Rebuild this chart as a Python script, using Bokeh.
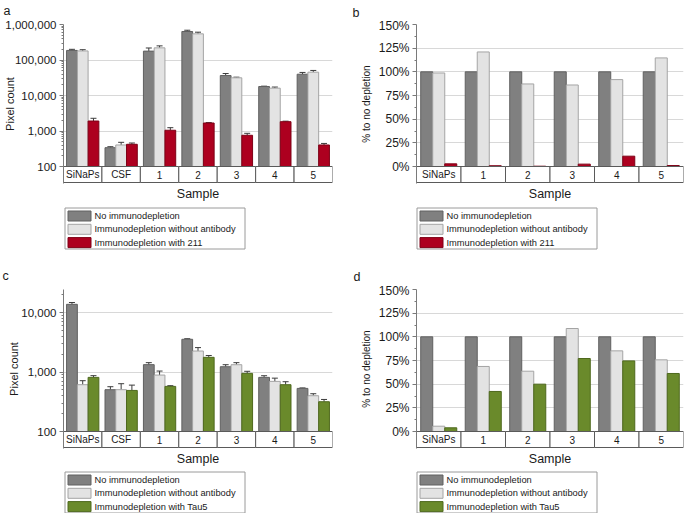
import math
from bokeh.plotting import figure
from bokeh.models import (Range1d, FixedTicker, NumeralTickFormatter, PrintfTickFormatter,
                          ColumnDataSource, Whisker, TeeHead)
from bokeh.layouts import row, column
from bokeh.embed import file_html
from bokeh.resources import INLINE
from bokeh.core.properties import value

FONT = "Liberation Sans"

# ---------------- data ----------------
cats_ac = ["SiNaPs", "CSF", "1", "2", "3", "4", "5"]
cats_bd = ["SiNaPs", "1", "2", "3", "4", "5"]
labels_211 = ["No immunodepletion", "Immunodepletion without antibody", "Immunodepletion with 211"]
labels_tau5 = ["No immunodepletion", "Immunodepletion without antibody", "Immunodepletion with Tau5"]

# panel a (pixel count, 211)
a_no_depl = [186000, 339, 178000, 635000, 36500, 17900, 39800]
a_no_depl_err = [14000, 22, 40000, 55000, 5100, 400, 4800]
a_no_ab = [180000, 404, 220000, 546000, 31500, 16100, 45400]
a_no_ab_err = [15000, 76, 30000, 61000, 1300, 1200, 5400]
a_211 = [1910, 422, 1050, 1680, 757, 1830, 404]
a_211_err = [370, 37, 190, 50, 103, 60, 42]

# panel b (% to no depletion, 211)
b_no_depl = [100, 100, 100, 100, 100, 100]
b_no_ab = [98.8, 121.0, 87.2, 86.1, 91.8, 114.7]
b_211 = [2.8, 0.8, 0.3, 2.5, 10.9, 1.0]

# panel c (pixel count, Tau5)
c_no_depl = [13800, 505, 1333, 3560, 1230, 814, 531]
c_no_depl_err = [1000, 62, 107, 80, 100, 54, 10]
c_no_ab = [613, 505, 890, 2260, 1330, 697, 400]
c_no_ab_err = [103, 132, 150, 320, 110, 93, 32]
c_tau5 = [814, 491, 574, 1770, 950, 613, 317]
c_tau5_err = [56, 112, 16, 130, 80, 75, 29]

# panel d (% to no depletion, Tau5)
d_no_depl = [100, 100, 100, 100, 100, 100]
d_no_ab = [5.6, 68.7, 63.7, 108.8, 85.2, 75.7]
d_tau5 = [3.9, 42.3, 50.0, 77.1, 74.6, 61.3]

ticks_a = [100, 1000, 10000, 100000, 1000000]
ticks_c = [100, 1000, 10000]
ticks_pct = [0, 25, 50, 75, 100, 125, 150]

# ---------------- styling ----------------
DARK = ("#808080", "#606060")
LIGHT = ("#e3e3e3", "#a4a4a4")
RED = ("#ad001f", "#7e0016")
GREEN = ("#6a8a2b", "#4e681d")
AXIS = "#7a7a7a"
TXT = "#1a1a1a"
BAR_PX, ROW_PX, PAD_PX = 142, 16, 1
FRAME_H = BAR_PX + ROW_PX + PAD_PX


def log_minor(lo, hi):
    out = []
    d = lo
    while d < hi:
        for m in range(2, 10):
            if m * d <= hi:
                out.append(m * d)
        d *= 10
    return out


def blank(W, H):
    f = figure(width=W, height=H, x_range=Range1d(0, W), y_range=Range1d(H, 0),
               x_axis_location=None, y_axis_location=None, output_backend="svg",
               toolbar_location=None, min_border_left=0, min_border_right=0,
               min_border_top=0, min_border_bottom=0, frame_align=False)
    f.outline_line_color = None
    f.background_fill_color = "white"
    f.border_fill_color = "white"
    f.grid.visible = False
    return f


def letter_fig(letter, W, H, x, baseline):
    f = blank(W, H)
    f.text(x=[x], y=[baseline], text=[letter], text_align="left",
           text_baseline="alphabetic", text_font=value(FONT),
           text_font_size="12.5px", text_color=TXT)
    return f


def legend_fig(labels, colors, W, H, bx, by):
    f = blank(W, H)
    bw, bh, step = 180, 41, 13.3
    f.quad(left=[bx + 0.5], right=[bx + bw + 0.5], top=[by + 0.5], bottom=[by + bh + 0.5],
           fill_color="white", line_color="#9a9a9a", line_width=1)
    tops = [by + 3.5 + k * step for k in range(len(labels))]
    f.quad(left=[bx + 3.5] * len(labels), right=[bx + 26.5] * len(labels),
           top=tops, bottom=[t + 10 for t in tops],
           fill_color=[c[0] for c in colors], line_color=[c[1] for c in colors], line_width=1)
    f.text(x=[bx + 30] * len(labels), y=[t + 5 for t in tops], text=labels,
           text_align="left", text_baseline="middle", text_font=value(FONT),
           text_font_size="9.3px", text_color=TXT)
    return f


def panel(cats, series, errors, colors, log, top, ticks, minor, grid,
          fmt, ylabel, ylabel_size, tick_size, ylab_standoff, bar_w,
          frame_w, bl, br, bt, bb):
    n = len(cats)
    if log:
        base = 100
        ppu = BAR_PX / math.log10(top / base)
        row_bot = base / 10 ** (ROW_PX / ppu)
        y0 = base / 10 ** ((ROW_PX + PAD_PX) / ppu)
        row_mid = math.sqrt(base * row_bot)
    else:
        base = 0
        ppu = BAR_PX / top
        row_bot = -ROW_PX / ppu
        y0 = -(ROW_PX + PAD_PX) / ppu
        row_mid = row_bot / 2

    p = figure(frame_width=frame_w, frame_height=FRAME_H,
               x_range=Range1d(0, n), y_range=Range1d(y0, top),
               y_axis_type="log" if log else "linear", output_backend="svg",
               toolbar_location=None, min_border_left=bl, min_border_right=br,
               min_border_top=bt, min_border_bottom=bb, frame_align=False)
    p.outline_line_color = None
    p.background_fill_color = "white"
    p.border_fill_color = "white"
    p.xgrid.visible = False
    p.ygrid.ticker = FixedTicker(ticks=grid)
    p.ygrid.grid_line_color = "#d8d8d8"
    p.ygrid.grid_line_width = 1

    for j, (vals, (fill, line)) in enumerate(zip(series, colors)):
        xs = [i + 0.5 + (j - 1) * bar_w for i in range(n)]
        p.vbar(x=xs, width=bar_w, bottom=base, top=vals, fill_color=fill,
               line_color=line, line_width=1)
        if errors is not None:
            err = errors[j]
            src = ColumnDataSource(dict(x=xs, lo=vals, hi=[v + e for v, e in zip(vals, err)]))
            p.add_layout(Whisker(source=src, base="x", lower="lo", upper="hi",
                                 line_color="#3c3c3c", line_width=1,
                                 upper_head=TeeHead(size=6, line_color="#3c3c3c", line_width=1),
                                 lower_head=None))

    # category row beneath the bars
    p.quad(left=list(range(n)), right=list(range(1, n + 1)), bottom=row_bot, top=base,
           fill_color="white", line_color="#5a5a5a", line_width=1)
    p.text(x=[i + 0.5 for i in range(n)], y=[row_mid] * n, text=cats,
           text_align="center", text_baseline="middle", text_font=value(FONT),
           text_font_size="10px", text_color=TXT)

    ya = p.yaxis[0]
    ya.ticker = FixedTicker(ticks=ticks, minor_ticks=minor)
    ya.formatter = fmt
    ya.axis_line_color = AXIS
    ya.major_tick_line_color = AXIS
    ya.minor_tick_line_color = AXIS
    ya.major_tick_in = 0
    ya.major_tick_out = 4
    ya.minor_tick_in = 0
    ya.minor_tick_out = 2
    ya.major_label_standoff = 3
    ya.major_label_text_font = FONT
    ya.major_label_text_font_size = tick_size
    ya.major_label_text_color = TXT
    ya.axis_label = ylabel
    ya.axis_label_text_font = FONT
    ya.axis_label_text_font_size = ylabel_size
    ya.axis_label_text_font_style = "normal"
    ya.axis_label_text_color = TXT
    ya.axis_label_standoff = ylab_standoff

    xa = p.xaxis[0]
    xa.ticker = FixedTicker(ticks=[n / 2])
    xa.major_label_text_font_size = "0px"
    xa.major_label_text_alpha = 0
    xa.axis_line_color = None
    xa.major_tick_line_color = None
    xa.minor_tick_line_color = None
    xa.major_tick_out = 0
    xa.major_tick_in = 0
    xa.minor_tick_out = 0
    xa.minor_tick_in = 0
    xa.major_label_standoff = 0
    xa.axis_label = "Sample"
    xa.axis_label_text_font = FONT
    xa.axis_label_text_font_size = "12.5px"
    xa.axis_label_text_font_style = "normal"
    xa.axis_label_text_color = TXT
    xa.axis_label_standoff = 3
    return p


pct_fmt = PrintfTickFormatter(format="%d%%")
num_fmt = NumeralTickFormatter(format="0,0")
minor_pct = [12.5, 37.5, 62.5, 87.5, 112.5, 137.5]

pa = panel(cats_ac, [a_no_depl, a_no_ab, a_211], [a_no_depl_err, a_no_ab_err, a_211_err],
           [DARK, LIGHT, RED], True, 1000000, ticks_a, log_minor(100, 1000000),
           [1000, 10000, 100000], num_fmt, "Pixel count", "11px", "11.5px", -14, 0.28,
           269, 63, 8, 6, 22)
pb = panel(cats_bd, [b_no_depl, b_no_ab, b_211], None,
           [DARK, LIGHT, RED], False, 150, ticks_pct, minor_pct,
           [25, 50, 75, 100, 125], pct_fmt, "% to no depletion", "10px", "12px", 4, 0.27,
           267, 76, 1, 6, 22)
pc = panel(cats_ac, [c_no_depl, c_no_ab, c_tau5], [c_no_depl_err, c_no_ab_err, c_tau5_err],
           [DARK, LIGHT, GREEN], True, 24500, ticks_c, log_minor(100, 24500),
           [1000, 10000], num_fmt, "Pixel count", "11px", "11.5px", -2, 0.28,
           269, 63, 8, 6, 22)
pd_ = panel(cats_bd, [d_no_depl, d_no_ab, d_tau5], None,
            [DARK, LIGHT, GREEN], False, 150, ticks_pct, minor_pct,
            [25, 50, 75, 100, 125], pct_fmt, "% to no depletion", "10px", "12px", 4, 0.27,
            267, 76, 1, 6, 22)

ta = letter_fig("a", 340, 18, 3, 10)
tb = letter_fig("b", 344, 18, 12, 12)
tc = letter_fig("c", 340, 26, 2, 18)
td = letter_fig("d", 344, 26, 13, 19.5)

la = legend_fig(labels_211, [DARK, LIGHT, RED], 340, 52, 64, 2)
lb = legend_fig(labels_211, [DARK, LIGHT, RED], 344, 52, 76, 2)
lc = legend_fig(labels_tau5, [DARK, LIGHT, GREEN], 340, 43, 64, 1)
ld = legend_fig(labels_tau5, [DARK, LIGHT, GREEN], 344, 43, 76, 1)

layout = column(
    row(column(ta, pa, la, spacing=0), column(tb, pb, lb, spacing=0), spacing=0),
    row(column(tc, pc, lc, spacing=0), column(td, pd_, ld, spacing=0), spacing=0),
    spacing=0)

open("out.html", "w").write(file_html(layout, INLINE))
